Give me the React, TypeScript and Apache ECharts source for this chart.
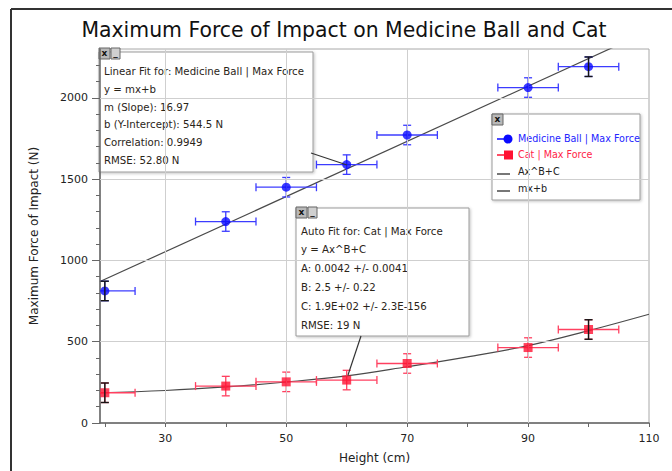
import React, { useEffect, useRef } from "react";
import * as echarts from "echarts";

// ---- data ----
const heights = [20, 40, 50, 60, 70, 90, 100];
const ballForce = [812, 1239, 1450, 1589, 1771, 2063, 2191];
const catForce = [186, 227, 253, 264, 366, 464, 575];
const heightError = 5;
const forceError = 60;

const linearFitX = [19.2, 110];
const linearFitY = [870, 2411];
const powerFitX = [19.2, 30, 40, 50, 60, 70, 80, 90, 100, 110];
const powerFitY = [186, 200, 222, 252, 290, 346, 407, 476, 568, 669];

const xTickValues = [20, 30, 40, 50, 60, 70, 80, 90, 100, 110];
const xLabelValues = [30, 50, 70, 90, 110];
const yMinorTickValues = [0, 100, 200, 300, 400, 500, 600, 700, 800, 900, 1000, 1100, 1200, 1300, 1400, 1500, 1600, 1700, 1800, 1900, 2000, 2100, 2200];
const yLabelValues = [0, 500, 1000, 1500, 2000];
const xGridValues = [30, 50, 70, 90];
const yGridValues = [500, 1000, 1500, 2000];

const linearLines = [
  "Linear Fit for: Medicine Ball | Max Force",
  "y = mx+b",
  "m (Slope): 16.97",
  "b (Y-Intercept): 544.5 N",
  "Correlation: 0.9949",
  "RMSE: 52.80 N",
];
const autoLines = [
  "Auto Fit for: Cat | Max Force",
  "y = Ax^B+C",
  "A: 0.0042 +/- 0.0041",
  "B: 2.5 +/- 0.22",
  "C: 1.9E+02 +/- 2.3E-156",
  "RMSE: 19 N",
];
const legendNames = ["Medicine Ball | Max Force", "Cat | Max Force", "Ax^B+C", "mx+b"];

const FONT = '"DejaVu Sans", sans-serif';
const BLUE = "#0a0aff";
const RED = "#ff1232";

function errorBarRenderer(color: string, onlyVertical: boolean, width: number) {
  return (params: any, api: any) => {
    const x = api.value(0);
    const y = api.value(1);
    const l = api.coord([x - heightError, y]);
    const r = api.coord([x + heightError, y]);
    const t = api.coord([x, y + forceError]);
    const b = api.coord([x, y - forceError]);
    const cap = 4;
    const style = { stroke: color, lineWidth: width, fill: null };
    const children: any[] = [
      { type: "line", shape: { x1: t[0], y1: t[1], x2: b[0], y2: b[1] }, style },
      { type: "line", shape: { x1: t[0] - cap, y1: t[1], x2: t[0] + cap, y2: t[1] }, style },
      { type: "line", shape: { x1: b[0] - cap, y1: b[1], x2: b[0] + cap, y2: b[1] }, style },
    ];
    if (!onlyVertical) {
      children.push(
        { type: "line", shape: { x1: l[0], y1: l[1], x2: r[0], y2: r[1] }, style },
        { type: "line", shape: { x1: l[0], y1: l[1] - cap, x2: l[0], y2: l[1] + cap }, style },
        { type: "line", shape: { x1: r[0], y1: r[1] - cap, x2: r[0], y2: r[1] + cap }, style }
      );
    }
    return { type: "group", children };
  };
}

function iconBox(x: number, y: number, w: number, label: string, fill: string) {
  return {
    type: "group",
    x,
    y,
    z: 120,
    children: [
      { type: "rect", shape: { x: 0, y: 0, width: w, height: 11 }, style: { fill, stroke: "#666", lineWidth: 1 } },
      {
        type: "text",
        style: { text: label, x: w / 2, y: 5, fill: "#111", fontSize: 9, fontFamily: FONT, align: "center", verticalAlign: "middle", fontWeight: "bold" },
      },
    ],
  };
}

function fitBox(x: number, y: number, w: number, h: number, lines: string[], step: number, firstY: number) {
  const children: any[] = [
    {
      type: "rect",
      shape: { x: 0, y: 0, width: w, height: h },
      style: { fill: "#ffffff", stroke: "#9a9a9a", lineWidth: 1, shadowBlur: 3, shadowColor: "rgba(0,0,0,0.25)", shadowOffsetX: 1, shadowOffsetY: 1 },
    },
  ];
  lines.forEach((s, i) => {
    children.push({
      type: "text",
      style: { text: s, x: 5, y: firstY + i * step, fill: "#2a2418", fontSize: 10.2, fontFamily: FONT, verticalAlign: "middle" },
    });
  });
  return { type: "group", x, y, z: 110, children };
}

export default function App() {
  const ref = useRef<HTMLDivElement>(null);

  useEffect(() => {
    if (!ref.current) return;
    const chart = echarts.init(ref.current, undefined, { renderer: "svg" });

    const ballData = heights.map((h, i) => [h, ballForce[i]]);
    const catData = heights.map((h, i) => [h, catForce[i]]);
    const endIdx = [0, heights.length - 1];
    const linearData = linearFitX.map((x, i) => [x, linearFitY[i]]);
    const powerData = powerFitX.map((x, i) => [x, powerFitY[i]]);

    const legendX = 492;
    const legendY = 114;
    const legendRows = [139, 155, 172, 189];

    const option: any = {
      animation: false,
      backgroundColor: "#ffffff",
      title: {
        text: "Maximum Force of Impact on Medicine Ball and Cat",
        left: 339,
        top: 15,
        textAlign: "center",
        textStyle: { fontFamily: FONT, fontSize: 20.4, fontWeight: "normal", color: "#111" },
      },
      grid: {
        left: 100,
        right: 23,
        top: 49,
        bottom: 48,
        show: true,
        borderColor: "#a8a8a8",
        borderWidth: 1,
        backgroundColor: "#ffffff",
      },
      xAxis: {
        type: "value",
        min: 19.2,
        max: 110,
        name: "Height (cm)",
        nameLocation: "middle",
        nameGap: 29,
        nameTextStyle: { fontFamily: FONT, fontSize: 12, color: "#222" },
        axisLine: { show: true, onZero: false, lineStyle: { color: "#666", width: 1.5 } },
        axisTick: { show: true, customValues: xTickValues, length: 4, lineStyle: { color: "#666" } },
        axisLabel: { customValues: xLabelValues, fontFamily: FONT, fontSize: 11, color: "#222", margin: 10, formatter: (v: number) => String(v) },
        splitLine: { show: false },
      },
      yAxis: [
        {
          type: "value",
          min: 0,
          max: 2300,
          name: "Maximum Force of Impact (N)",
          nameLocation: "middle",
          nameGap: 60,
          nameTextStyle: { fontFamily: FONT, fontSize: 12, color: "#222" },
          axisLine: { show: true, onZero: false, lineStyle: { color: "#666", width: 1.5 } },
          axisTick: { show: true, customValues: yMinorTickValues, length: 4, lineStyle: { color: "#666" } },
          axisLabel: { customValues: yLabelValues, fontFamily: FONT, fontSize: 11, color: "#222", margin: 12, formatter: (v: number) => String(v) },
          splitLine: { show: false },
        },
        {
          type: "value",
          min: 0,
          max: 2300,
          position: "left",
          axisLine: { show: false },
          axisTick: { show: true, customValues: yLabelValues, length: 8, lineStyle: { color: "#666" } },
          axisLabel: { show: false },
          splitLine: { show: false },
        },
      ],
      series: [
        {
          name: "grid",
          type: "line",
          data: [],
          silent: true,
          z: 0,
          markLine: {
            silent: true,
            symbol: ["none", "none"],
            label: { show: false },
            lineStyle: { color: "#cfcfcf", type: "solid", width: 1 },
            data: [...xGridValues.map((v) => ({ xAxis: v })), ...yGridValues.map((v) => ({ yAxis: v }))],
          },
        },
        {
          name: "mx+b",
          type: "line",
          data: linearData,
          showSymbol: false,
          symbol: "none",
          lineStyle: { color: "#4a4a4a", width: 1.2 },
          z: 3,
          clip: true,
        },
        {
          name: "Ax^B+C",
          type: "line",
          data: powerData,
          smooth: 0.4,
          showSymbol: false,
          symbol: "none",
          lineStyle: { color: "#4a4a4a", width: 1.2 },
          z: 3,
          clip: true,
        },
        {
          name: "ballErr",
          type: "custom",
          data: ballData,
          clip: true,
          z: 4,
          renderItem: errorBarRenderer("#3c3cff", false, 1.3),
        },
        {
          name: "catErr",
          type: "custom",
          data: catData,
          clip: true,
          z: 4,
          renderItem: errorBarRenderer("#ff4060", false, 1.3),
        },
        {
          name: "Medicine Ball | Max Force",
          type: "scatter",
          data: ballData,
          symbol: "circle",
          symbolSize: 9,
          itemStyle: { color: BLUE },
          z: 5,
        },
        {
          name: "Cat | Max Force",
          type: "scatter",
          data: catData,
          symbol: "rect",
          symbolSize: 9,
          itemStyle: { color: RED },
          z: 5,
        },
        {
          name: "endErr",
          type: "custom",
          data: [...endIdx.map((i) => ballData[i]), ...endIdx.map((i) => catData[i])],
          clip: true,
          z: 6,
          renderItem: errorBarRenderer("#151515", true, 1.4),
        },
      ],
      graphic: [
        // window frame
        { type: "line", z: 130, shape: { x1: 11, y1: 9, x2: 672, y2: 9 }, style: { stroke: "#333", lineWidth: 2 } },
        { type: "line", z: 130, shape: { x1: 11, y1: 9, x2: 11, y2: 471 }, style: { stroke: "#333", lineWidth: 2 } },
        // connectors
        { type: "line", z: 100, shape: { x1: 311, y1: 153, x2: 347, y2: 165 }, style: { stroke: "#333", lineWidth: 1.2 } },
        { type: "line", z: 100, shape: { x1: 361, y1: 336, x2: 348, y2: 375 }, style: { stroke: "#333", lineWidth: 1.2 } },
        fitBox(99, 52, 214, 120, linearLines, 17.7, 19.7),
        iconBox(99, 48, 11, "x", "#b8b8b8"),
        iconBox(111, 48, 9, "_", "#cfcfcf"),
        fitBox(296, 208, 173, 128, autoLines, 18.8, 23),
        iconBox(296, 207, 11, "x", "#b8b8b8"),
        iconBox(308, 207, 9, "_", "#cfcfcf"),
        // legend box
        {
          type: "group",
          x: legendX,
          y: legendY,
          z: 110,
          children: [
            {
              type: "rect",
              shape: { x: 0, y: 0, width: 148, height: 86 },
              style: { fill: "#ffffff", stroke: "#9a9a9a", lineWidth: 1, shadowBlur: 3, shadowColor: "rgba(0,0,0,0.25)", shadowOffsetX: 1, shadowOffsetY: 1 },
            },
            { type: "line", shape: { x1: 5, y1: legendRows[0] - legendY, x2: 20, y2: legendRows[0] - legendY }, style: { stroke: BLUE, lineWidth: 1.5 } },
            { type: "circle", shape: { cx: 16, cy: legendRows[0] - legendY, r: 4.5 }, style: { fill: BLUE } },
            { type: "line", shape: { x1: 5, y1: legendRows[1] - legendY, x2: 20, y2: legendRows[1] - legendY }, style: { stroke: RED, lineWidth: 1.5 } },
            { type: "rect", shape: { x: 12, y: legendRows[1] - legendY - 4.5, width: 9, height: 9 }, style: { fill: RED } },
            { type: "line", shape: { x1: 5, y1: legendRows[2] - legendY + 2, x2: 18, y2: legendRows[2] - legendY + 2 }, style: { stroke: "#777", lineWidth: 2 } },
            { type: "line", shape: { x1: 5, y1: legendRows[3] - legendY + 2, x2: 18, y2: legendRows[3] - legendY + 2 }, style: { stroke: "#777", lineWidth: 2 } },
            ...legendNames.map((n, i) => ({
              type: "text",
              style: {
                text: n,
                x: 26,
                y: legendRows[i] - legendY - 1,
                fill: i === 0 ? "#2424ff" : i === 1 ? "#ff2448" : "#222",
                fontSize: 9.6,
                fontFamily: FONT,
                verticalAlign: "middle",
              },
            })),
          ],
        },
        iconBox(492, 114, 11, "x", "#b8b8b8"),
      ],
    };

    chart.setOption(option);
    return () => chart.dispose();
  }, []);

  return <div ref={ref} style={{ position: "absolute", left: 0, top: 0, width: 672, height: 471 }} />;
}
